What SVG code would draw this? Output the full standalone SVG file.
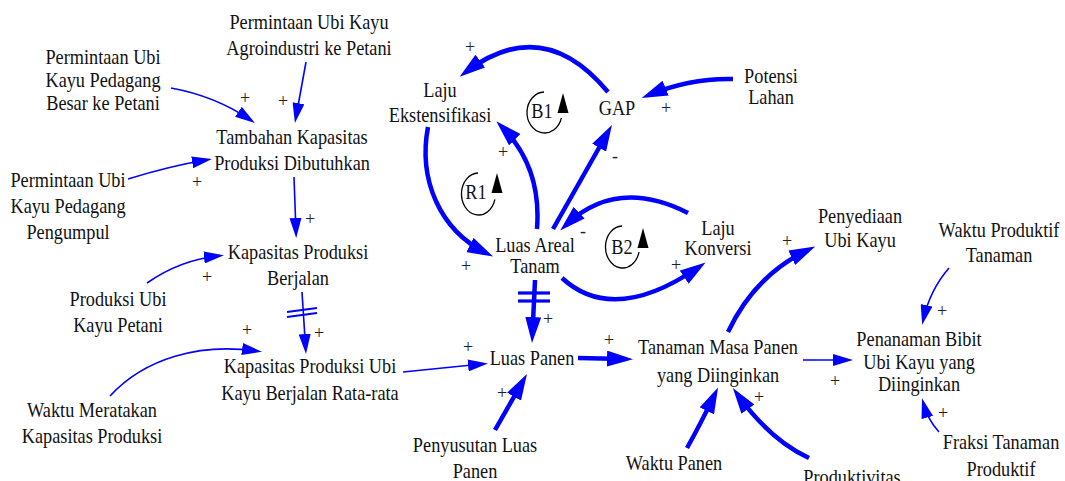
<svg xmlns="http://www.w3.org/2000/svg" width="1065" height="481" viewBox="0 0 1065 481">
<style>
.t{font-family:"Liberation Serif","Times New Roman",serif;font-size:21px;fill:#111;text-anchor:middle}
.s{font-family:"Liberation Serif","Times New Roman",serif;font-size:18px;fill:#222;text-anchor:middle}
.thin{fill:none;stroke:#00f;stroke-width:1.6}
.thick{fill:none;stroke:#00f;stroke-width:4.5}
.dl{stroke:#00f;stroke-width:1.8}
.dlT{stroke:#00f;stroke-width:3.2}
.loop{fill:none;stroke:#000;stroke-width:1.3}
</style>
<defs>
<marker id="ah" markerUnits="userSpaceOnUse" viewBox="0 0 20 12" markerWidth="20" markerHeight="12" refX="14" refY="6" orient="auto"><path d="M0,0 L20,6 L0,12 z" fill="#00f"/></marker>
<marker id="ahT" markerUnits="userSpaceOnUse" viewBox="0 0 26 16" markerWidth="26" markerHeight="16" refX="18" refY="8" orient="auto"><path d="M0,0 L26,8 L0,16 z" fill="#00f"/></marker>
</defs>

<g id="connectors">
<path class="thin" marker-end="url(#ah)" d="M171,88 Q215,96 250,119.6"/>
<path class="thin" marker-end="url(#ah)" d="M306,62 L296,117"/>
<path class="thin" marker-end="url(#ah)" d="M128,179 Q170,166 206,160"/>
<path class="thin" marker-end="url(#ah)" d="M294,177 L296,232"/>
<path class="thin" marker-end="url(#ah)" d="M147,283 Q180,260 218,256"/>
<path class="thin" marker-end="url(#ah)" d="M302,292 L305.6,348"/>
<line class="dl" x1="287" y1="312" x2="317" y2="308"/>
<line class="dl" x1="287" y1="317" x2="317" y2="313"/>
<path class="thin" marker-end="url(#ah)" d="M110,396 C145,358 200,343 256,351"/>
<path class="thin" marker-end="url(#ah)" d="M403,372 L482,364"/>
<path class="thin" marker-end="url(#ah)" d="M803,360 L847,360"/>
<path class="thin" marker-end="url(#ah)" d="M949,268 Q930,290 923.5,319"/>
<path class="thin" marker-end="url(#ah)" d="M939,432 Q928,420 923.6,404"/>

<path class="thick" marker-end="url(#ahT)" d="M608,92 Q543,13.5 466,72"/>
<path class="thick" marker-end="url(#ahT)" d="M428,127 C418,180 440,230 486,253"/>
<path class="thick" marker-end="url(#ahT)" d="M537,229 C540,190 530,155 502,127"/>
<path class="thick" marker-end="url(#ahT)" d="M553,229 L608,132"/>
<path class="thick" marker-end="url(#ahT)" d="M688,213 Q617,177 566,225"/>
<path class="thick" marker-end="url(#ahT)" d="M562,278 Q613.5,325.5 699,267"/>
<path class="thick" marker-end="url(#ahT)" d="M733,79 Q690,78 649,95"/>
<path class="thick" marker-end="url(#ahT)" d="M535,280 L532.4,335"/>
<line class="dlT" x1="518" y1="293" x2="550" y2="293"/>
<line class="dlT" x1="518" y1="301" x2="550" y2="301"/>
<path class="thick" marker-end="url(#ahT)" d="M578,358 L625,359"/>
<path class="thick" marker-end="url(#ahT)" d="M495,430 L523,381"/>
<path class="thick" marker-end="url(#ahT)" d="M687,448 Q700,425 714.6,394.6"/>
<path class="thick" marker-end="url(#ahT)" d="M809,458 Q770,440 737.5,394.5"/>
<path class="thick" marker-end="url(#ahT)" d="M728,332 Q755,275 808,250"/>
</g>

<g id="polarities">
<text class="s" x="245" y="104">+</text>
<text class="s" x="283" y="107">+</text>
<text class="s" x="197" y="188">+</text>
<text class="s" x="310" y="225">+</text>
<text class="s" x="207" y="283">+</text>
<text class="s" x="319" y="339">+</text>
<text class="s" x="247" y="336">+</text>
<text class="s" x="468" y="353">+</text>
<text class="s" x="470" y="53">+</text>
<text class="s" x="503" y="158">+</text>
<text class="s" x="615" y="162">-</text>
<text class="s" x="666" y="114">+</text>
<text class="s" x="583" y="237">-</text>
<text class="s" x="466" y="272">+</text>
<text class="s" x="676" y="271">+</text>
<text class="s" x="548" y="325">+</text>
<text class="s" x="609" y="346">+</text>
<text class="s" x="502" y="399">+</text>
<text class="s" x="759" y="403">+</text>
<text class="s" x="787" y="247">+</text>
<text class="s" x="835" y="387">+</text>
<text class="s" x="942" y="317">+</text>
<text class="s" x="943" y="419">+</text>
</g>

<g id="loops">
<g id="loop-B1">
<path class="loop" d="M544,92 A17.5,20.5 0 1 0 561.4,117.8"/>
<path d="M563,93 L557.5,113 L568.5,113 z" fill="#000"/>
<text class="t" transform="translate(542,0) scale(0.87,1)"><tspan x="0" y="118">B1</tspan></text>
</g>
<g id="loop-R1">
<path class="loop" d="M478,173 A17,21 0 1 0 494.9,199.4"/>
<path d="M497,173 L491.5,193 L502.5,193 z" fill="#000"/>
<text class="t" transform="translate(476,0) scale(0.87,1)"><tspan x="0" y="199">R1</tspan></text>
</g>
<g id="loop-B2">
<path class="loop" d="M622,226 A17,21 0 1 0 639,252"/>
<path d="M643,228 L637.5,248 L648.5,248 z" fill="#000"/>
<text class="t" transform="translate(622,0) scale(0.87,1)"><tspan x="0" y="254">B2</tspan></text>
</g>
</g>

<g id="n-agro"><text class="t" transform="translate(309,0) scale(0.87,1)"><tspan x="0" y="29">Permintaan Ubi Kayu</tspan><tspan x="0" y="55">Agroindustri ke Petani</tspan></text></g>
<g id="n-besar"><text class="t" transform="translate(103,0) scale(0.87,1)"><tspan x="0" y="64">Permintaan Ubi</tspan><tspan x="0" y="87">Kayu Pedagang</tspan><tspan x="0" y="110">Besar ke Petani</tspan></text></g>
<g id="n-tambahan"><text class="t" transform="translate(292,0) scale(0.87,1)"><tspan x="0" y="144">Tambahan Kapasitas</tspan><tspan x="0" y="170">Produksi Dibutuhkan</tspan></text></g>
<g id="n-pengumpul"><text class="t" transform="translate(68,0) scale(0.87,1)"><tspan x="0" y="187">Permintaan Ubi</tspan><tspan x="0" y="213">Kayu Pedagang</tspan><tspan x="0" y="239">Pengumpul</tspan></text></g>
<g id="n-kpb"><text class="t" transform="translate(298,0) scale(0.87,1)"><tspan x="0" y="259">Kapasitas Produksi</tspan><tspan x="0" y="285">Berjalan</tspan></text></g>
<g id="n-produksi"><text class="t" transform="translate(118,0) scale(0.87,1)"><tspan x="0" y="306">Produksi Ubi</tspan><tspan x="0" y="332">Kayu Petani</tspan></text></g>
<g id="n-kpr"><text class="t" transform="translate(310,0) scale(0.87,1)"><tspan x="0" y="373">Kapasitas Produksi Ubi</tspan><tspan x="0" y="400">Kayu Berjalan Rata-rata</tspan></text></g>
<g id="n-waktu-meratakan"><text class="t" transform="translate(92,0) scale(0.87,1)"><tspan x="0" y="417">Waktu Meratakan</tspan><tspan x="0" y="443">Kapasitas Produksi</tspan></text></g>
<g id="n-laju-eks"><text class="t" transform="translate(440,0) scale(0.87,1)"><tspan x="0" y="97">Laju</tspan><tspan x="0" y="122">Ekstensifikasi</tspan></text></g>
<g id="n-gap"><text class="t" transform="translate(617,0) scale(0.87,1)"><tspan x="0" y="115">GAP</tspan></text></g>
<g id="n-potensi"><text class="t" transform="translate(771,0) scale(0.87,1)"><tspan x="0" y="83">Potensi</tspan><tspan x="0" y="104">Lahan</tspan></text></g>
<g id="n-luas-areal"><text class="t" transform="translate(535,0) scale(0.87,1)"><tspan x="0" y="252">Luas Areal</tspan><tspan x="0" y="273">Tanam</tspan></text></g>
<g id="n-laju-konv"><text class="t" transform="translate(718,0) scale(0.87,1)"><tspan x="0" y="235">Laju</tspan><tspan x="0" y="255">Konversi</tspan></text></g>
<g id="n-luas-panen"><text class="t" transform="translate(532,0) scale(0.87,1)"><tspan x="0" y="365">Luas Panen</tspan></text></g>
<g id="n-tanaman"><text class="t" transform="translate(718,0) scale(0.87,1)"><tspan x="0" y="354">Tanaman Masa Panen</tspan><tspan x="0" y="382">yang Diinginkan</tspan></text></g>
<g id="n-penyusutan"><text class="t" transform="translate(475,0) scale(0.87,1)"><tspan x="0" y="452">Penyusutan Luas</tspan><tspan x="0" y="478">Panen</tspan></text></g>
<g id="n-waktu-panen"><text class="t" transform="translate(674,0) scale(0.87,1)"><tspan x="0" y="470">Waktu Panen</tspan></text></g>
<g id="n-produktivitas"><text class="t" transform="translate(852,0) scale(0.87,1)"><tspan x="0" y="484">Produktivitas</tspan></text></g>
<g id="n-penyediaan"><text class="t" transform="translate(860,0) scale(0.87,1)"><tspan x="0" y="223">Penyediaan</tspan><tspan x="0" y="247">Ubi Kayu</tspan></text></g>
<g id="n-waktu-produktif"><text class="t" transform="translate(999,0) scale(0.87,1)"><tspan x="0" y="237">Waktu Produktif</tspan><tspan x="0" y="262">Tanaman</tspan></text></g>
<g id="n-penanaman"><text class="t" transform="translate(919,0) scale(0.87,1)"><tspan x="0" y="346">Penanaman Bibit</tspan><tspan x="0" y="369">Ubi Kayu yang</tspan><tspan x="0" y="391">Diinginkan</tspan></text></g>
<g id="n-fraksi"><text class="t" transform="translate(1001,0) scale(0.87,1)"><tspan x="0" y="449">Fraksi Tanaman</tspan><tspan x="0" y="476">Produktif</tspan></text></g>
</svg>
